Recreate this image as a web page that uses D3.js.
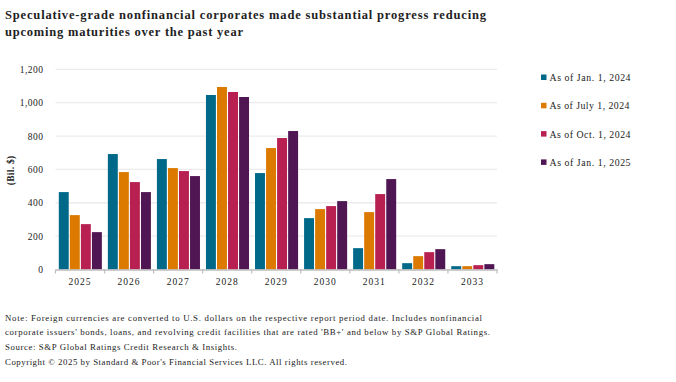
<!DOCTYPE html>
<html>
<head>
<meta charset="utf-8">
<script src="https://cdn.jsdelivr.net/npm/d3@7/dist/d3.min.js"></script>
<style>
  html, body { margin: 0; padding: 0; background: #fff; }
  svg { display: block; }
  text { font-family: "Liberation Serif", "Times New Roman", serif; fill: #222; }
</style>
</head>
<body>
<svg id="chart" width="676" height="382"></svg>
<script>
const categories = ["2025", "2026", "2027", "2028", "2029", "2030", "2031", "2032", "2033"];
const seriesNames = ["As of Jan. 1, 2024", "As of July 1, 2024", "As of Oct. 1, 2024", "As of Jan. 1, 2025"];
const jan2024 = [464, 692, 662, 1046, 578, 308, 128, 38, 20];
const jul2024 = [326, 584, 608, 1094, 728, 362, 344, 80, 20];
const oct2024 = [272, 524, 590, 1064, 788, 380, 452, 104, 26];
const jan2025 = [224, 464, 560, 1034, 830, 410, 542, 122, 32];
const yTicks = [0, 200, 400, 600, 800, 1000, 1200];
const colors = ["#00698a", "#dc7a00", "#b72050", "#4f1653"];
const titleLines = ["Speculative-grade nonfinancial corporates made substantial progress reducing",
                    "upcoming maturities over the past year"];
const footLines = [
  "Note: Foreign currencies are converted to U.S. dollars on the respective report period date. Includes nonfinancial",
  "corporate issuers' bonds, loans, and revolving credit facilities that are rated 'BB+' and below by S&P Global Ratings.",
  "Source: S&P Global Ratings Credit Research & Insights.",
  "Copyright © 2025 by Standard & Poor's Financial Services LLC. All rights reserved."
];
const yLabel = "(Bil. $)";

const seriesValues = [jan2024, jul2024, oct2024, jan2025];
const svg = d3.select("#chart");

// fit text to a measured width by spacing letters
function fitWidth(sel, widths) {
  sel.each(function (d, i) {
    const t = d3.select(this);
    const w = this.getComputedTextLength();
    const n = t.text().length;
    if (n > 1) t.attr("letter-spacing", ((widths[i] - w) / (n - 1)).toFixed(3));
  });
}

// Title
const titleSel = svg.append("g").selectAll("text").data(titleLines).join("text")
  .attr("x", 5).attr("y", (d, i) => 19 + i * 16.5)
  .attr("font-size", 12.5).attr("font-weight", "bold")
  .text(d => d);
fitWidth(titleSel, [481, 238]);

const pLeft = 55.5, pRight = 497, pTop = 69.3, pBottom = 269.5;
const x0 = d3.scaleBand().domain(categories).range([pLeft, pRight]).padding(0);
const x1 = d3.scaleBand().domain(d3.range(4)).range([3.3, x0.bandwidth() - 2.7]).paddingInner(0.1);
const y = d3.scaleLinear().domain([0, 1200]).range([pBottom, pTop]);

// gridlines
svg.append("g").selectAll("line").data(yTicks.filter(t => t > 0)).join("line")
  .attr("x1", pLeft).attr("x2", pRight)
  .attr("y1", d => y(d)).attr("y2", d => y(d))
  .attr("stroke", "#ececec").attr("stroke-width", 1.3);

// y axis labels
const yAxis = d3.axisLeft(y).tickValues(yTicks).tickFormat(d3.format(",")).tickSize(0).tickPadding(0);
const gy = svg.append("g").attr("transform", `translate(${pLeft - 12},0)`).call(yAxis);
gy.select(".domain").remove();
gy.selectAll("text").attr("font-size", 9.5).attr("font-family", "Liberation Serif, serif").attr("fill", "#333").attr("letter-spacing", 0.5);

// y label
svg.append("text")
  .attr("transform", `translate(14,${(pTop + pBottom) / 2 + 1}) rotate(-90)`)
  .attr("text-anchor", "middle").attr("font-size", 9.5).attr("font-weight", "bold")
  .attr("letter-spacing", 0.3)
  .text(yLabel);

// bars
const groups = svg.append("g").selectAll("g").data(categories).join("g")
  .attr("transform", d => `translate(${x0(d)},0)`);
groups.selectAll("rect").data((d, ci) => seriesValues.map((s, si) => ({ si, v: s[ci] })))
  .join("rect")
  .attr("x", d => x1(d.si)).attr("width", x1.bandwidth())
  .attr("y", d => y(d.v)).attr("height", d => pBottom - y(d.v))
  .attr("fill", d => colors[d.si]);

// x axis
const xAxis = d3.axisBottom(x0).tickSize(0).tickPadding(9);
const gx = svg.append("g").attr("transform", `translate(0,${pBottom})`).call(xAxis);
gx.select(".domain").attr("stroke", "#bdbdbd").attr("stroke-width", 1.3);
gx.selectAll("text").attr("font-size", 9.5).attr("font-family", "Liberation Serif, serif").attr("fill", "#333").attr("letter-spacing", 1);
// boundary ticks
const bounds = categories.map(c => x0(c)).concat([pRight]);
svg.append("g").selectAll("line").data(bounds).join("line")
  .attr("x1", d => d).attr("x2", d => d)
  .attr("y1", pBottom).attr("y2", pBottom + 4)
  .attr("stroke", "#bdbdbd").attr("stroke-width", 1.2);

// legend
const lg = svg.append("g").selectAll("g").data(seriesNames).join("g")
  .attr("transform", (d, i) => `translate(541,${77.5 + i * 28.3})`);
lg.append("rect").attr("x", 0).attr("y", -3).attr("width", 5.5).attr("height", 5.5)
  .attr("fill", (d, i) => colors[i]);
const lgText = lg.append("text").attr("x", 8.5).attr("y", 3.5).attr("font-size", 9.8).attr("fill", "#333").text(d => d);
fitWidth(lgText, [81, 80, 81, 81]);

// footnotes
const footSel = svg.append("g").selectAll("text").data(footLines).join("text")
  .attr("x", 5).attr("y", (d, i) => 320.5 + i * 14.9)
  .attr("font-size", 8.8).attr("fill", "#333")
  .text(d => d);
fitWidth(footSel, [477, 485, 232, 342]);
</script>
</body>
</html>
